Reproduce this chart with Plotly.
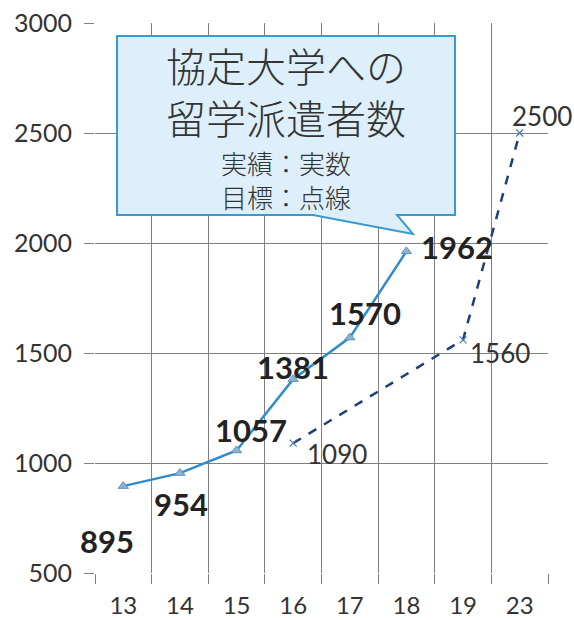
import plotly.graph_objects as go

categories = ["13", "14", "15", "16", "17", "18", "19", "23"]
actual_x = ["13", "14", "15", "16", "17", "18"]
actual_y = [895, 954, 1057, 1381, 1570, 1962]
target_x = ["16", "19", "23"]
target_y = [1090, 1560, 2500]
y_ticks = [500, 1000, 1500, 2000, 2500, 3000]

# label offsets (pixels) relative to each point
actual_off = [(-16, -55), (1, -31), (14, 20), (0, 12), (15, 25), (51, 4)]
target_off = [(44, -11), (37, -13), (22, 17)]

W, H = 574, 620
L, R, T, B = 95, 26, 23, 47
PW, PH = W - L - R, H - T - B


def px(x):
    return (x - L) / PW


def py(y):
    return (H - B - y) / PH


fig = go.Figure()
fig.add_trace(go.Scatter(
    x=actual_x, y=actual_y, mode="lines+markers",
    line=dict(color="#2F8CCB", width=2.5),
    marker=dict(symbol="triangle-up", size=9, color="#8DB3D3",
                line=dict(color="#5E93BF", width=1)),
    showlegend=False))
fig.add_trace(go.Scatter(
    x=target_x, y=target_y, mode="lines+markers",
    line=dict(color="#1F3E7C", width=2.5, dash="dash"),
    marker=dict(symbol="x-thin", size=7, color="#4A78B8",
                line=dict(color="#4A78B8", width=1.2)),
    showlegend=False))

ann = []
for xv, yv, (dx, dy) in zip(actual_x, actual_y, actual_off):
    ann.append(dict(x=categories.index(xv), y=yv, xref="x", yref="y", text=str(yv),
                    showarrow=False, xshift=dx, yshift=dy,
                    font=dict(family="Lato", size=31, color="#222222", weight="bold")))
for xv, yv, (dx, dy) in zip(target_x, target_y, target_off):
    ann.append(dict(x=categories.index(xv), y=yv, xref="x", yref="y", text=str(yv),
                    showarrow=False, xshift=dx, yshift=dy,
                    font=dict(family="Lato", size=26, color="#333333")))

box_blocks = [("協定大学への<br>留学派遣者数", 40, 91), ("実績：実数<br>目標：点線", 26, 179)]
for txt, sz, yy in box_blocks:
    ann.append(dict(x=px(286), y=py(yy), xref="paper", yref="paper", text=txt,
                    showarrow=False, xanchor="center", yanchor="middle", align="center",
                    font=dict(family="Noto Sans CJK JP", size=sz, color="#333333",
                              weight=300)))

pts = [(117, 36), (455, 36), (455, 215), (397, 215), (413, 234), (313, 215), (117, 215)]
path = "M " + " L ".join(f"{px(a):.4f},{py(b):.4f}" for a, b in pts) + " Z"

fig.update_layout(
    width=W, height=H,
    margin=dict(l=L, r=R, t=T, b=B),
    paper_bgcolor="white", plot_bgcolor="white",
    annotations=ann,
    shapes=[dict(type="path", path=path, xref="paper", yref="paper",
                 fillcolor="#DCEFFA", line=dict(color="#3A9AD0", width=2),
                 layer="above")],
    xaxis=dict(type="category", categoryorder="array", categoryarray=categories,
               range=[-0.5, len(categories) - 0.5], tickson="boundaries",
               showgrid=True, gridcolor="#808080", gridwidth=1,
               ticks="outside", ticklen=10, tickcolor="#808080",
               tickfont=dict(family="Lato", size=24, color="#333333"),
               ticklabelstandoff=16, showline=False, zeroline=False,
               automargin=False),
    yaxis=dict(range=[500, 3000], tickvals=y_ticks,
               showgrid=True, gridcolor="#808080", gridwidth=1,
               ticks="outside", ticklen=10, tickcolor="#808080",
               tickfont=dict(family="Lato", size=25, color="#333333"),
               ticklabelstandoff=7, showline=False, zeroline=False,
               automargin=False),
)

fig.write_html("out.html", config={"displayModeBar": False},
               post_script="document.body.style.margin='0';document.body.style.overflow='hidden';")
